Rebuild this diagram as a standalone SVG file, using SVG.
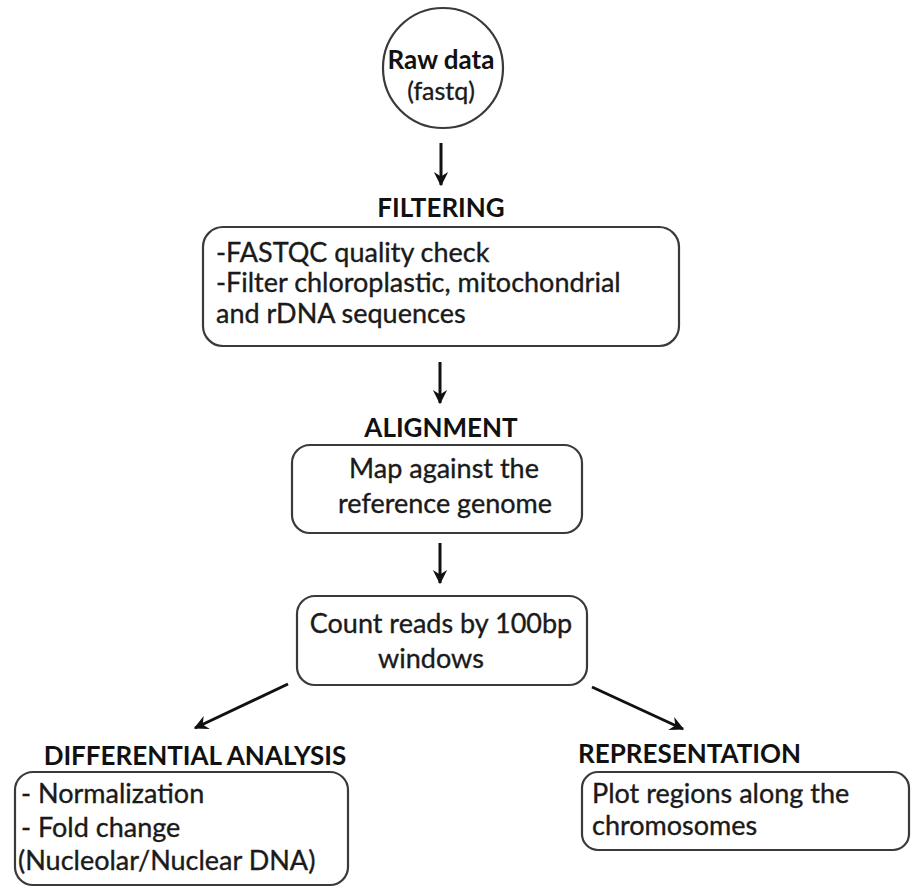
<svg xmlns="http://www.w3.org/2000/svg" width="912" height="888" viewBox="0 0 912 888">
<defs>
<marker id="ah" viewBox="0 0 12 12" refX="10" refY="6" markerWidth="5.2" markerHeight="5.2" orient="auto" markerUnits="strokeWidth">
<path d="M0,0.5 L11,6 L0,11.5 L3.5,6 Z" fill="#111"/>
</marker>
<style>
.box{fill:#fff;stroke:#3a3a3a;stroke-width:2.2}
.t{font-family:Lato,"Open Sans","Liberation Sans",sans-serif;font-size:27px;fill:#1a1a1a;stroke:#1a1a1a;stroke-width:0.35}
.h{font-family:Lato,"Open Sans","Liberation Sans",sans-serif;font-size:26px;font-weight:bold;fill:#111}
.c{text-anchor:middle}
.ar{stroke:#111;stroke-width:3;fill:none;marker-end:url(#ah)}
</style>
</defs>
<rect width="912" height="888" fill="#fff"/>
<g id="connectors">
<line class="ar" x1="441" y1="143" x2="441" y2="185"/>
<line class="ar" x1="440" y1="362" x2="440" y2="403"/>
<line class="ar" x1="440" y1="543" x2="440" y2="583"/>
<line class="ar" x1="288" y1="684" x2="195" y2="728"/>
<line class="ar" x1="592" y1="687" x2="683" y2="729"/>
</g>
<g id="raw">
<circle cx="443" cy="68" r="60" fill="#fff" stroke="#3a3a3a" stroke-width="2.2"/>
<text class="h c" x="441" y="69" style="font-size:26px">Raw data</text>
<text class="t c" x="441" y="100" style="font-size:25px">(fastq)</text>
</g>
<g id="filtering">
<text class="h c" x="441" y="217">FILTERING</text>
<rect class="box" x="203" y="227" width="476" height="119" rx="20"/>
<text class="t" x="216" y="262">-FASTQC quality check</text>
<text class="t" x="216" y="292">-Filter chloroplastic, mitochondrial</text>
<text class="t" x="216" y="323">and rDNA sequences</text>
</g>
<g id="alignment">
<text class="h c" x="441" y="437">ALIGNMENT</text>
<rect class="box" x="292" y="445" width="290" height="88" rx="18"/>
<text class="t c" x="444" y="478">Map against the</text>
<text class="t c" x="445" y="513">reference genome</text>
</g>
<g id="count">
<rect class="box" x="297" y="596" width="290" height="89" rx="18"/>
<text class="t c" x="441" y="633">Count reads by 100bp</text>
<text class="t c" x="431" y="668">windows</text>
</g>
<g id="differential">
<text class="h c" x="195" y="765">DIFFERENTIAL ANALYSIS</text>
<rect class="box" x="15" y="772" width="333" height="113" rx="18"/>
<text class="t" x="21" y="803">- Normalization</text>
<text class="t" x="21" y="837">- Fold change</text>
<text class="t" x="18" y="870">(Nucleolar/Nuclear DNA)</text>
</g>
<g id="representation">
<text class="h" x="578" y="763">REPRESENTATION</text>
<rect class="box" x="582" y="772" width="327" height="78" rx="16"/>
<text class="t" x="592" y="803">Plot regions along the</text>
<text class="t" x="592" y="835">chromosomes</text>
</g>
</svg>
